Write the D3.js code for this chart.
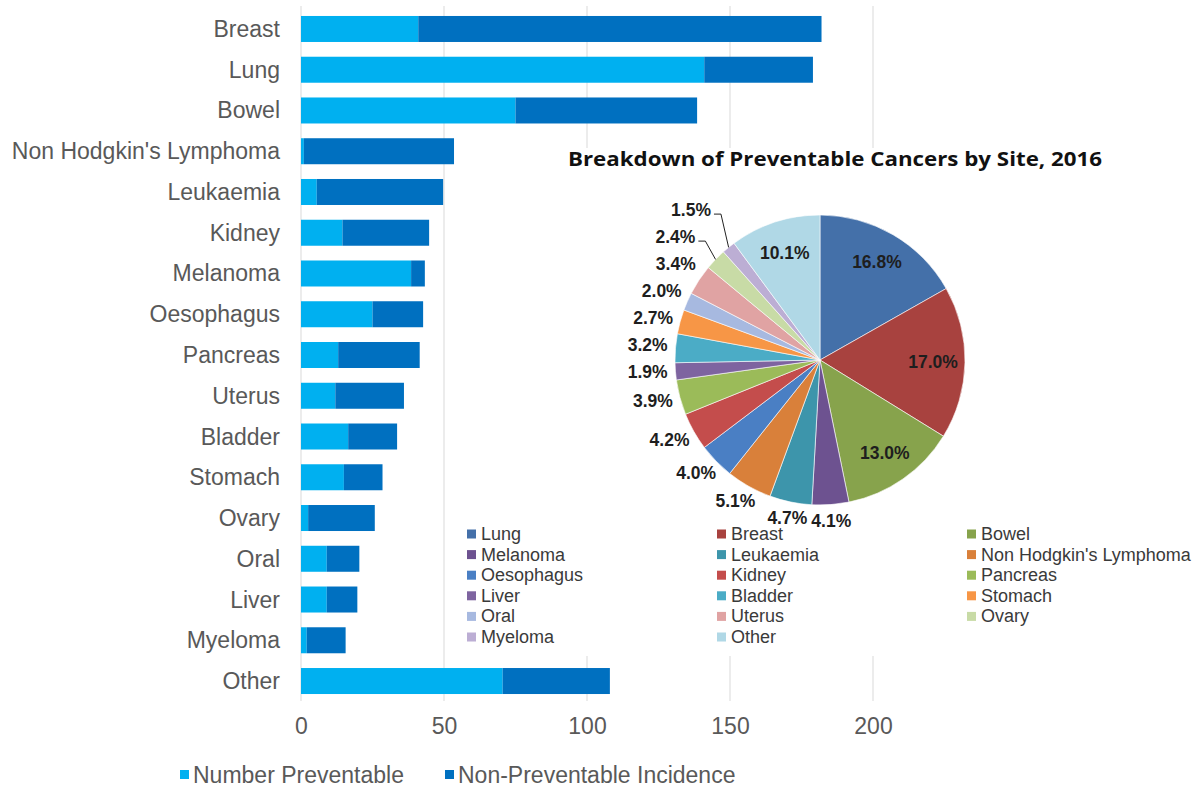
<!DOCTYPE html>
<html>
<head>
<meta charset="utf-8">
<script src="https://cdn.jsdelivr.net/npm/d3@7"></script>
<style>
    body { margin: 0; background: #fff; }
    svg { display: block; font-family: "Liberation Sans", Arial, sans-serif; }
</style>
</head>
<body>
<svg id="chart" width="1198" height="790"></svg>
<script>
// bar chart data (thousands of cases)
var categories = ["Breast", "Lung", "Bowel", "Non Hodgkin's Lymphoma", "Leukaemia", "Kidney", "Melanoma",
    "Oesophagus", "Pancreas", "Uterus", "Bladder", "Stomach", "Ovary", "Oral", "Liver", "Myeloma", "Other"];
var preventable    = [41, 141, 75, 1, 5.5, 14.5, 38.5, 25, 13, 12, 16.5, 15, 2.5, 9, 9, 2, 70.5];
var nonPreventable = [141, 38, 63.5, 52.5, 44.2, 30.3, 4.8, 17.7, 28.5, 24, 17.1, 13.5, 23.3, 11.4, 10.7, 13.6, 37.5];
var xTicks = [0, 50, 100, 150, 200];
var seriesNames = ["Number Preventable", "Non-Preventable Incidence"];

// pie data (% of preventable cancers)
var pieTitle = "Breakdown of Preventable Cancers by Site, 2016";
var pieSites = ["Lung", "Breast", "Bowel", "Melanoma", "Leukaemia", "Non Hodgkin's Lymphoma", "Oesophagus",
    "Kidney", "Pancreas", "Liver", "Bladder", "Stomach", "Oral", "Uterus", "Ovary", "Myeloma", "Other"];
var pieShares = [16.8, 17.0, 13.0, 4.1, 4.7, 5.1, 4.0, 4.2, 3.9, 1.9, 3.2, 2.7, 2.0, 3.4, 2.4, 1.5, 10.1];
var pieColors = ["#4470a9", "#a8423f", "#87a34c", "#6d5290", "#3d95ab", "#d9803a", "#4a7fc4", "#c44d4c",
    "#9bbb59", "#7e64a0", "#4bacc6", "#f79646", "#a7b9e0", "#e0a3a3", "#c8dba6", "#bcaed4", "#b0d8e6"];

var svg = d3.select("#chart");
var labelGrey = "#595959";

/* ---------- stacked bar chart ---------- */
var x = d3.scaleLinear().domain([0, 200]).range([301, 873]);
var y = d3.scaleBand().domain(categories).range([8.6, 701.4]).paddingInner(0.362).paddingOuter(0.181);

svg.append("g").selectAll("line")
    .data(xTicks)
    .enter().append("line")
    .attr("x1", function (d) { return x(d); })
    .attr("x2", function (d) { return x(d); })
    .attr("y1", 6)
    .attr("y2", 701)
    .style("stroke", "#d9d9d9")
    .style("stroke-width", 1);

var rows = categories.map(function (c, i) {
    return { name: c, a: preventable[i], b: nonPreventable[i] };
});

var barG = svg.append("g");
barG.selectAll("rect.prev")
    .data(rows)
    .enter().append("rect")
    .attr("class", "prev")
    .attr("x", x(0))
    .attr("y", function (d) { return y(d.name); })
    .attr("width", function (d) { return x(d.a) - x(0); })
    .attr("height", y.bandwidth())
    .style("fill", "#00b0f0");

barG.selectAll("rect.nonprev")
    .data(rows)
    .enter().append("rect")
    .attr("class", "nonprev")
    .attr("x", function (d) { return x(d.a); })
    .attr("y", function (d) { return y(d.name); })
    .attr("width", function (d) { return x(d.a + d.b) - x(d.a); })
    .attr("height", y.bandwidth())
    .style("fill", "#0070c0");

svg.append("g").selectAll("text")
    .data(categories)
    .enter().append("text")
    .attr("x", 280)
    .attr("y", function (d) { return y(d) + y.bandwidth() / 2; })
    .attr("dominant-baseline", "central")
    .attr("text-anchor", "end")
    .style("font-size", "23px")
    .style("fill", labelGrey)
    .text(function (d) { return d; });

var xAxis = svg.append("g")
    .attr("transform", "translate(0,715)")
    .call(d3.axisBottom(x).tickValues(xTicks).tickSize(0).tickPadding(3));
xAxis.select(".domain").remove();
xAxis.selectAll("text")
    .style("font-size", "23px")
    .style("font-family", "Liberation Sans, Arial, sans-serif")
    .style("fill", labelGrey);

// bottom legend
var legX = [180, 445];
var bottomLeg = svg.append("g").selectAll("g")
    .data(seriesNames)
    .enter().append("g")
    .attr("transform", function (d, i) { return "translate(" + legX[i] + ",775)"; });
bottomLeg.append("rect")
    .attr("x", 0).attr("y", -5).attr("width", 9).attr("height", 9)
    .style("fill", function (d, i) { return i === 0 ? "#00b0f0" : "#0070c0"; });
bottomLeg.append("text")
    .attr("x", 13)
    .attr("dominant-baseline", "central")
    .style("font-size", "23px")
    .style("fill", labelGrey)
    .text(function (d) { return d; });

/* ---------- pie overlay ---------- */
svg.append("rect")
    .attr("x", 457).attr("y", 148)
    .attr("width", 741).attr("height", 508)
    .style("fill", "#fff");

svg.append("text")
    .attr("x", 835)
    .attr("y", 158)
    .attr("text-anchor", "middle")
    .attr("dominant-baseline", "central")
    .attr("textLength", 534)
    .attr("lengthAdjust", "spacingAndGlyphs")
    .style("font-family", "'Open Sans', sans-serif")
    .style("font-weight", "bold")
    .style("font-size", "20px")
    .style("fill", "#111")
    .text(pieTitle);

var cx = 820, cy = 360, r = 145;
var pie = d3.pie().sort(null).value(function (d) { return d; });
var arcs = pie(pieShares);
var arc = d3.arc().innerRadius(0).outerRadius(r);

var pieG = svg.append("g").attr("transform", "translate(" + cx + "," + cy + ")");
pieG.selectAll("path")
    .data(arcs)
    .enter().append("path")
    .attr("d", arc)
    .style("fill", function (d, i) { return pieColors[i]; })
    .style("stroke", "#fff")
    .style("stroke-width", 0.6);

// inside labels for big slices, outside for the rest
var inArc = d3.arc().innerRadius(r * 0.78).outerRadius(r * 0.78);
var labelH = 17;
var lblG = pieG.append("g")
    .style("font-size", "17.5px")
    .style("font-weight", "bold")
    .style("fill", "#1e1e1e");

var prevLeftY = null;
arcs.forEach(function (d, i) {
    var txt = d.data.toFixed(1) + "%";
    var t = lblG.append("text")
        .attr("text-anchor", "middle")
        .attr("dominant-baseline", "central")
        .text(txt);
    if (d.data >= 10) {
        var c = inArc.centroid(d);
        t.attr("x", c[0]).attr("y", c[1]);
        return;
    }
    var a = (d.startAngle + d.endAngle) / 2;
    var s = Math.sin(a), co = Math.cos(a);
    var w = t.node().getComputedTextLength();
    var lr = r + 8;
    var lx = lr * s + s * w / 2 * Math.min(1, Math.abs(s) * 2);
    var ly = -lr * co - co * labelH / 2 * Math.min(1, Math.abs(co) * 2);
    var baseY = ly;
    // upper left labels get stacked so they don't collide
    if (s < 0 && co > 0) {
        if (prevLeftY !== null && ly > prevLeftY - 27) ly = prevLeftY - 27;
        prevLeftY = ly;
    } else if (s < 0) {
        prevLeftY = ly;
    }
    if (baseY - ly > 8) {
        lx -= 20;
        var ex = r * s, ey = -r * co;
        lblG.append("path")
            .attr("d", "M" + (lx + w / 2 + 3) + "," + (ly + 4) + "H" + (lx + w / 2 + 10) + "L" + ex + "," + ey)
            .style("fill", "none")
            .style("stroke", "#222")
            .style("stroke-width", 1);
    }
    t.attr("x", lx).attr("y", ly);
});

// pie legend, 3 columns
var legG = svg.append("g").selectAll("g")
    .data(pieSites)
    .enter().append("g")
    .attr("transform", function (d, i) {
        return "translate(" + (467 + (i % 3) * 250) + "," + (534 + Math.floor(i / 3) * 20.6) + ")";
    });
legG.append("rect")
    .attr("x", 0).attr("y", -4.5).attr("width", 9).attr("height", 9)
    .style("fill", function (d, i) { return pieColors[i]; });
legG.append("text")
    .attr("x", 14)
    .attr("dominant-baseline", "central")
    .style("font-size", "18px")
    .style("fill", "#3a3a3a")
    .text(function (d) { return d; });
</script>
</body>
</html>
